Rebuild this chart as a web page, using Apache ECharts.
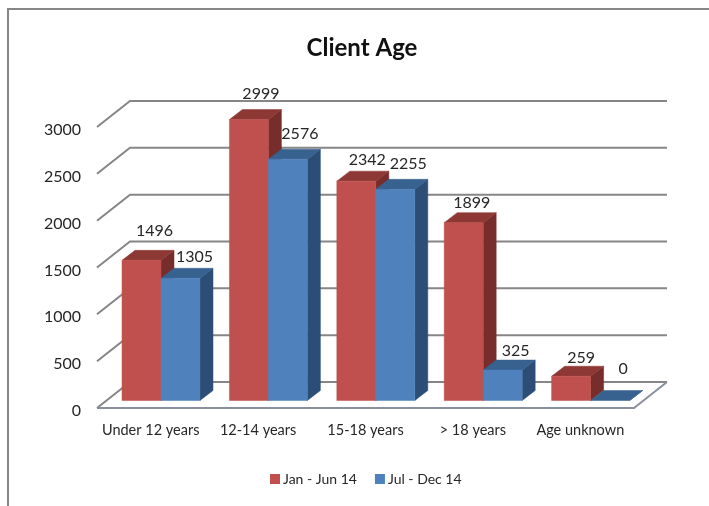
<!DOCTYPE html>
<html>
<head>
<meta charset="utf-8">
<title>Client Age</title>
<script src="https://cdn.jsdelivr.net/npm/echarts@6/dist/echarts.min.js"></script>
<style>
  html, body { margin: 0; padding: 0; background: #fff; }
  #main { width: 709px; height: 506px; }
</style>
</head>
<body>
<div id="main"></div>
<script>
var categories = ['Under 12 years', '12-14 years', '15-18 years', '> 18 years', 'Age unknown'];
var firstHalf = [1496, 2999, 2342, 1899, 259];
var secondHalf = [1305, 2576, 2255, 325, 0];
var yTicks = [0, 500, 1000, 1500, 2000, 2500, 3000];

// hand placed data labels, px from the bar's top centre
var firstNudge = [[13, -30], [12, -26], [11, -21], [8, -20], [10, -18]];
var secondNudge = [[14, -21], [12, -25], [13, -25], [13, -19], [13, -32]];

var FONT = 'Lato';
var TEXT = '#262626';
var WALL = [33, -26];   // depth of the chart floor
var FLOOR = [9.5, -7.5]; // where the bars stand on the floor
var BAR = [13, -10];    // depth of a bar
var barShare = 0.363;

function poly(points, color) {
  return { type: 'polygon', shape: { points: points }, style: { fill: color, stroke: color, lineWidth: 0.5 } };
}

function renderGrid(params, api) {
  var tick = api.value(1);
  var r = params.coordSys;
  var y = api.coord([0, tick])[1];
  var x0 = r.x, x1 = r.x + r.width;
  var line = { fill: null, stroke: '#868686', lineWidth: 2 };
  var kids = [{
    type: 'polyline',
    shape: { points: [[x0, y], [x0 + WALL[0], y + WALL[1]], [x1 + WALL[0], y + WALL[1]]] },
    style: line
  }];
  if (tick === 0) {
    kids.push({
      type: 'polyline',
      shape: { points: [[x0, y], [x1, y], [x1 + WALL[0], y + WALL[1]]] },
      style: { fill: null, stroke: '#8a8f9e', lineWidth: 2 }
    });
  }
  return { type: 'group', children: kids };
}

function barRenderer(offset, colors, nudge) {
  return function (params, api) {
    var i = api.value(0);
    var top = api.coord([i, api.value(1)]);
    var base = api.coord([i, 0]);
    var w = api.size([1, 0])[0] * barShare;
    var xl = top[0] + offset * w + FLOOR[0] + 0.8;
    var xr = xl + w;
    var yt = top[1] + FLOOR[1];
    var yb = base[1] + FLOOR[1];
    var kids = [
      poly([[xr, yt], [xr + BAR[0], yt + BAR[1]], [xr + BAR[0], yb + BAR[1]], [xr, yb]], colors.side),
      poly([[xl, yt], [xl + BAR[0], yt + BAR[1]], [xr + BAR[0], yt + BAR[1]], [xr, yt]], colors.top)
    ];
    if (yb - yt > 0) {
      kids.push(poly([[xl, yt], [xr, yt], [xr, yb], [xl, yb]], colors.front));
    }
    kids.push({
      type: 'text',
      z2: 10,
      style: {
        x: (xl + xr) / 2 + nudge[i][0],
        y: yt + nudge[i][1],
        text: String(api.value(1)),
        font: '16px ' + FONT,
        fill: TEXT,
        align: 'center',
        verticalAlign: 'middle'
      }
    });
    return { type: 'group', children: kids };
  };
}

function pairs(values) {
  return values.map(function (v, i) { return [i, v]; });
}

var chart = echarts.init(document.getElementById('main'), null, { renderer: 'canvas' });
chart.setOption({
  backgroundColor: '#fff',
  animation: false,
  textStyle: { fontFamily: FONT },
  title: {
    text: 'Client Age',
    left: 357,
    top: 31,
    textAlign: 'center',
    textStyle: { fontFamily: FONT, fontSize: 24, fontWeight: 'bold', color: '#111' }
  },
  legend: {
    left: 265,
    top: 467,
    data: ['Jan - Jun 14', 'Jul - Dec 14'],
    icon: 'rect',
    itemWidth: 10,
    itemHeight: 10,
    itemGap: 18,
    textStyle: { fontFamily: FONT, fontSize: 14, color: TEXT, padding: [0, 0, 0, -2] }
  },
  grid: { left: 97, right: 75, top: 127, bottom: 98 },
  xAxis: {
    type: 'category',
    data: categories,
    axisLine: { show: false },
    axisTick: { show: false },
    axisLabel: { interval: 0, fontFamily: FONT, fontSize: 14.5, color: TEXT, margin: 15 }
  },
  yAxis: {
    type: 'value',
    min: 0,
    max: 3000,
    interval: 500,
    axisLine: { show: false },
    axisTick: { show: false },
    splitLine: { show: false },
    axisLabel: {
      fontFamily: FONT,
      fontSize: 16,
      color: TEXT,
      margin: 16,
      verticalAlign: 'top',
      lineHeight: 6,
      formatter: function (v) { return String(v); }
    }
  },
  series: [
    {
      type: 'custom',
      name: 'walls',
      renderItem: renderGrid,
      data: yTicks.map(function (t) { return [0, t]; }),
      silent: true
    },
    {
      type: 'custom',
      name: 'Jan - Jun 14',
      renderItem: barRenderer(-1, { front: '#C0504D', top: '#8E3835', side: '#772D2B' }, firstNudge),
      itemStyle: { color: '#C0504D' },
      data: pairs(firstHalf)
    },
    {
      type: 'custom',
      name: 'Jul - Dec 14',
      renderItem: barRenderer(0, { front: '#4F81BD', top: '#37618F', side: '#2C4D75' }, secondNudge),
      itemStyle: { color: '#4F81BD' },
      data: pairs(secondHalf)
    }
  ],
  graphic: [{
    type: 'polyline',
    silent: true,
    shape: { points: [[8, 506], [8, 9], [709, 9]] },
    style: { fill: null, stroke: '#868686', lineWidth: 2 }
  }]
});
</script>
</body>
</html>
